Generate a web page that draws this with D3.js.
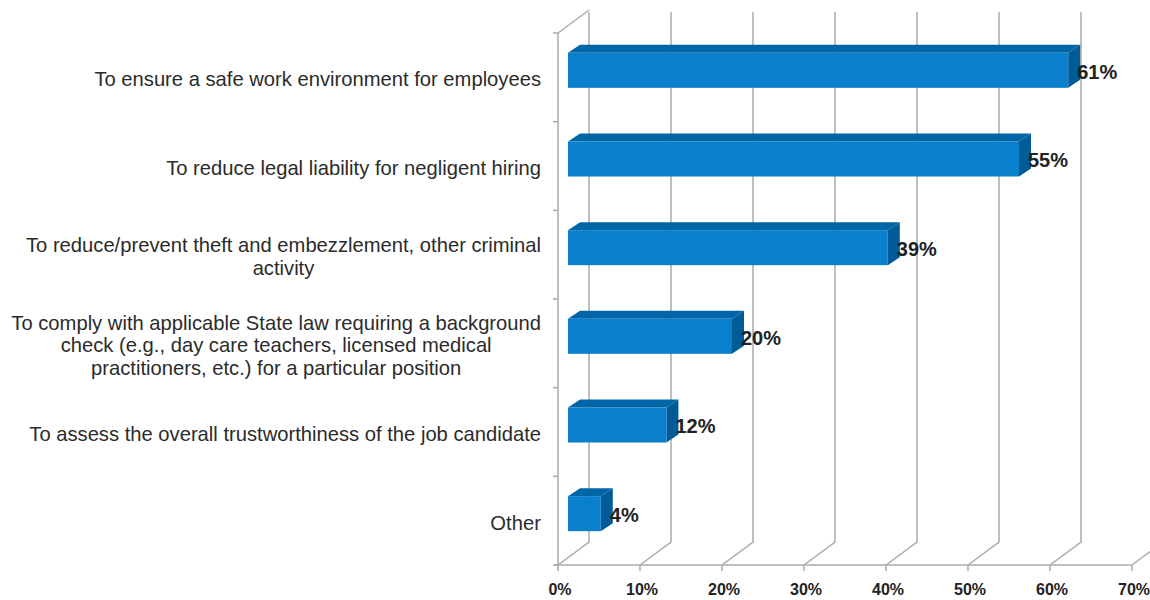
<!DOCTYPE html>
<html>
<head>
<meta charset="utf-8">
<script src="https://cdn.jsdelivr.net/npm/d3@7"></script>
<style>
  body { margin: 0; background: #fff; }
  svg { display: block; font-family: "Liberation Sans", Arial, sans-serif; }
</style>
</head>
<body>
<div id="chart"></div>
<script>
var categories = [
  ["To ensure a safe work environment for employees"],
  ["To reduce legal liability for negligent hiring"],
  ["To reduce/prevent theft and embezzlement, other criminal", "activity"],
  ["To comply with applicable State law requiring a background", "check (e.g., day care teachers, licensed medical", "practitioners, etc.) for a particular position"],
  ["To assess the overall trustworthiness of the job candidate"],
  ["Other"]
];
var values = [61, 55, 39, 20, 12, 4];
var ticks = [0, 10, 20, 30, 40, 50, 60, 70];

var width = 1150, height = 600;
var depth = {x: 31, y: -23};      // wall depth
var barOff = {x: 10, y: -7};      // bar front face offset from front plane
var barDepth = {x: 12, y: -8};
var barH = 35;
var grid = "#ababab";

var svg = d3.select("#chart").append("svg")
  .attr("width", width)
  .attr("height", height);

var x = d3.scaleLinear().domain([0, 70]).range([558, 1132]);
var y = d3.scaleBand().domain(d3.range(categories.length)).range([33, 565]);

var frontY = 565;
var backBottom = frontY + depth.y;
var backTop = 12;

// back wall gridlines + floor diagonals
var g = svg.append("g").attr("stroke", grid).attr("stroke-width", 1.5).attr("fill", "none");
ticks.forEach(function(t) {
  g.append("path")
    .attr("d", "M" + x(t) + "," + frontY + "L" + (x(t) + depth.x) + "," + backBottom + "L" + (x(t) + depth.x) + "," + backTop);
  g.append("line")
    .attr("x1", x(t)).attr("x2", x(t))
    .attr("y1", frontY).attr("y2", frontY + 6);
});
// floor front edge
g.append("line").attr("x1", x(0) - 4).attr("x2", x(70)).attr("y1", frontY).attr("y2", frontY);
// left wall
g.append("line").attr("x1", x(0)).attr("x2", x(0)).attr("y1", y.range()[0]).attr("y2", frontY);
g.append("line").attr("x1", x(0)).attr("x2", x(0) + depth.x).attr("y1", y.range()[0]).attr("y2", y.range()[0] + depth.y);
d3.range(categories.length + 1).forEach(function(i) {
  var yy = y.range()[0] + i * y.step();
  g.append("line").attr("x1", x(0) - 5).attr("x2", x(0)).attr("y1", yy).attr("y2", yy);
});

// bars
var bars = svg.selectAll(".bar").data(values).enter().append("g").attr("class", "bar");
bars.each(function(v, i) {
  var sel = d3.select(this);
  var x0 = x(0) + barOff.x, x1 = x(v) + barOff.x;
  var yt = y(i) + y.bandwidth() / 2 - barH / 2 + barOff.y, yb = yt + barH;
  sel.append("polygon")
    .attr("points", [[x0, yt], [x1, yt], [x1 + barDepth.x, yt + barDepth.y], [x0 + barDepth.x, yt + barDepth.y]].join(" "))
    .attr("fill", "#0066a8");
  sel.append("polygon")
    .attr("points", [[x1, yt], [x1 + barDepth.x, yt + barDepth.y], [x1 + barDepth.x, yb + barDepth.y], [x1, yb]].join(" "))
    .attr("fill", "#005b97");
  sel.append("rect")
    .attr("x", x0).attr("y", yt)
    .attr("width", x1 - x0).attr("height", barH)
    .attr("fill", "#0a7fcc");
  sel.append("text")
    .attr("x", x1 + 9).attr("y", yt + barH / 2 + 3)
    .attr("dominant-baseline", "middle")
    .attr("font-size", 20).attr("font-weight", "bold").attr("fill", "#222")
    .text(v + "%");
});

// category labels
var labelRight = 541, lineH = 22.5;
categories.forEach(function(lines, i) {
  var cy = y(i) + y.bandwidth() / 2 + 3.5;
  var t = svg.append("text")
    .attr("font-size", 20.2).attr("fill", "#2b2b2b")
    .attr("text-anchor", "middle");
  lines.forEach(function(l, j) {
    t.append("tspan").attr("x", 0)
      .attr("y", cy + (j - (lines.length - 1) / 2) * lineH)
      .attr("dominant-baseline", "middle")
      .text(l);
  });
  var w = t.node().getBBox().width;
  t.selectAll("tspan").attr("x", labelRight - w / 2);
});

// x tick labels
svg.selectAll(".tick-label").data(ticks).enter().append("text")
  .attr("x", function(d) { return x(d) + 2; })
  .attr("y", 591)
  .attr("dominant-baseline", "middle")
  .attr("text-anchor", "middle")
  .attr("font-size", 16).attr("font-weight", "bold").attr("fill", "#222")
  .text(function(d) { return d + "%"; });
</script>
</body>
</html>
